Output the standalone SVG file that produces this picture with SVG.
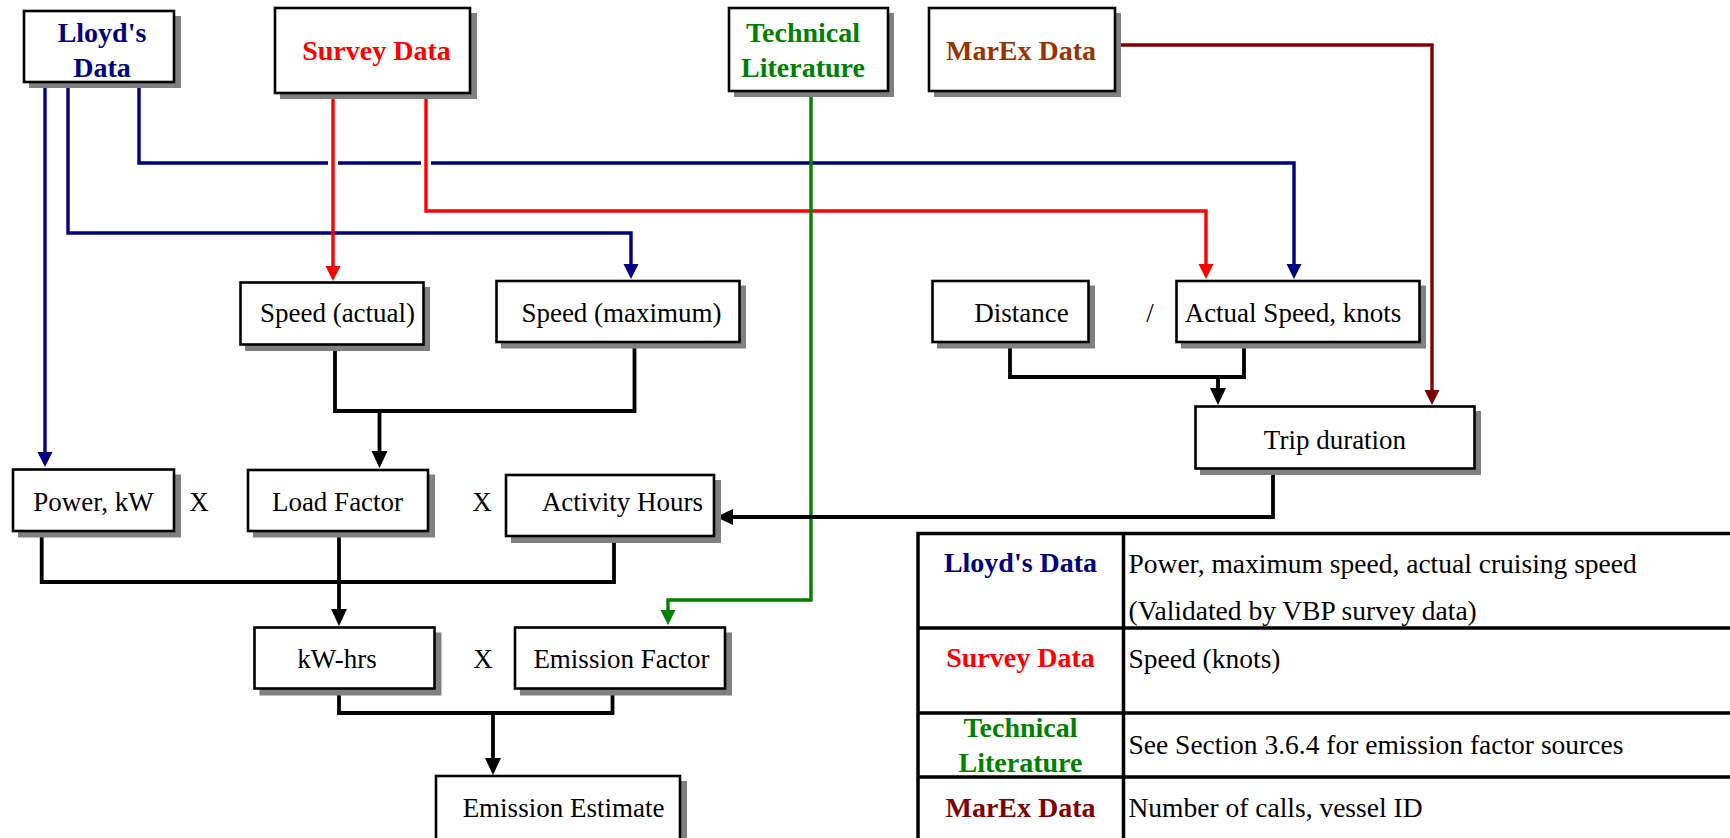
<svg xmlns="http://www.w3.org/2000/svg" width="1730" height="838" viewBox="0 0 1730 838">
  <style>
    text { font-family: "Liberation Serif", "Times New Roman", serif; font-size: 27px; fill: #000; text-anchor: middle; }
    .src { font-weight: bold; font-size: 28px; }
    .lt { text-anchor: start; font-size: 27.5px; }
    .box { fill: #fff; stroke: #000; stroke-width: 2.6; }
    .shadow { fill: #808080; }
    .ln { fill: none; stroke-width: 3.4; stroke-linejoin: miter; }
    .blk { fill: none; stroke: #000; stroke-width: 3.8; }
    .navy { stroke: #000080; }
    .red { stroke: #ff0000; }
    .green { stroke: #008000; }
    .maroon { stroke: #800000; }
    .gap { stroke: #fff; stroke-width: 10; }
    .grid { stroke: #000; stroke-width: 3.5; }
  </style>
  <defs>
    <marker id="ah-navy" markerUnits="userSpaceOnUse" markerWidth="16" markerHeight="16" refX="11" refY="7.5" orient="auto">
      <path d="M0,0 L15,7.5 L0,15 z" fill="#000080"/>
    </marker>
    <marker id="ah-red" markerUnits="userSpaceOnUse" markerWidth="16" markerHeight="16" refX="11" refY="7.5" orient="auto">
      <path d="M0,0 L15,7.5 L0,15 z" fill="#ff0000"/>
    </marker>
    <marker id="ah-green" markerUnits="userSpaceOnUse" markerWidth="16" markerHeight="16" refX="11" refY="7.5" orient="auto">
      <path d="M0,0 L15,7.5 L0,15 z" fill="#008000"/>
    </marker>
    <marker id="ah-maroon" markerUnits="userSpaceOnUse" markerWidth="16" markerHeight="16" refX="11" refY="7.5" orient="auto">
      <path d="M0,0 L15,7.5 L0,15 z" fill="#800000"/>
    </marker>
    <marker id="ah-black" markerUnits="userSpaceOnUse" markerWidth="18" markerHeight="18" refX="13" refY="8" orient="auto">
      <path d="M0,0 L17,8 L0,16 z" fill="#000"/>
    </marker>
  </defs>

  <rect width="1730" height="838" fill="#fff"/>

  <!-- connectors -->
  <g id="connectors">
    <!-- Lloyd's data feeds -->
    <path class="ln navy" d="M45,83 V463" marker-end="url(#ah-navy)"/>
    <path class="ln navy" d="M68,83 V233 H631 V275" marker-end="url(#ah-navy)"/>
    <path class="ln navy" d="M139,83 V163 H1294 V275" marker-end="url(#ah-navy)"/>
    <!-- breaks in the long blue run where the red lines pass -->
    <path class="gap" d="M333,159 V167 M426,159 V167"/>
    <!-- survey data feeds -->
    <path class="ln red" d="M333,94 V277" marker-end="url(#ah-red)"/>
    <path class="ln red" d="M426,94 V211 H1206 V275" marker-end="url(#ah-red)"/>
    <!-- technical literature feed -->
    <path class="ln green" d="M811,92 V600 H668 V621" marker-end="url(#ah-green)"/>
    <!-- MarEx feed -->
    <path class="ln maroon" d="M1115,45 H1432 V401" marker-end="url(#ah-maroon)"/>

    <!-- speeds to load factor -->
    <path class="blk" d="M335,345 V411 H634.5 V343"/>
    <path class="blk" d="M379.5,411 V464" marker-end="url(#ah-black)"/>
    <!-- distance / speed to trip duration -->
    <path class="blk" d="M1010,343 V377 H1244 V343"/>
    <path class="blk" d="M1218,377 V401" marker-end="url(#ah-black)"/>
    <!-- trip duration to activity hours -->
    <path class="blk" d="M1273,469 V517 H720" marker-end="url(#ah-black)"/>
    <!-- power x load x hours to kW-hrs -->
    <path class="blk" d="M41.7,532 V582 H614 V537"/>
    <path class="blk" d="M339,532 V622" marker-end="url(#ah-black)"/>
    <!-- kW-hrs x emission factor to estimate -->
    <path class="blk" d="M339,689 V713 H612.5 V689"/>
    <path class="blk" d="M493,713 V771" marker-end="url(#ah-black)"/>
  </g>

  <!-- data sources -->
  <g id="lloyds-data">
    <rect class="shadow" x="29" y="16" width="152" height="72"/>
    <rect class="box" x="24" y="11" width="150" height="71"/>
    <text class="src" x="102" y="42" style="fill:#000080">Lloyd's</text>
    <text class="src" x="102" y="77" style="fill:#000080">Data</text>
  </g>
  <g id="survey-data">
    <rect class="shadow" x="280" y="13" width="197" height="86"/>
    <rect class="box" x="275" y="8" width="195" height="85"/>
    <text class="src" x="376.5" y="59.5" style="fill:#ff0000">Survey Data</text>
  </g>
  <g id="technical-literature">
    <rect class="shadow" x="734" y="13" width="160" height="84"/>
    <rect class="box" x="729" y="8" width="159" height="83"/>
    <text class="src" x="803" y="42" style="fill:#008000">Technical</text>
    <text class="src" x="803" y="77" style="fill:#008000">Literature</text>
  </g>
  <g id="marex-data">
    <rect class="shadow" x="934" y="13" width="187" height="84"/>
    <rect class="box" x="929" y="8" width="186" height="83"/>
    <text class="src" x="1021" y="59.5" style="fill:#993300">MarEx Data</text>
  </g>

  <!-- intermediate quantities -->
  <g id="speed-actual">
    <rect class="shadow" x="245" y="287" width="185" height="64"/>
    <rect class="box" x="240.5" y="282.5" width="183" height="62"/>
    <text x="337.5" y="322">Speed (actual)</text>
  </g>
  <g id="speed-maximum">
    <rect class="shadow" x="501" y="285.5" width="245" height="63"/>
    <rect class="box" x="496.5" y="281" width="243" height="61"/>
    <text x="621.5" y="322">Speed (maximum)</text>
  </g>
  <g id="distance">
    <rect class="shadow" x="937" y="285.5" width="158" height="63"/>
    <rect class="box" x="932.5" y="281" width="156" height="61"/>
    <text x="1021.5" y="322">Distance</text>
  </g>
  <text id="divide-sign" x="1150" y="322">/</text>
  <g id="actual-speed">
    <rect class="shadow" x="1181" y="285.5" width="245" height="63"/>
    <rect class="box" x="1176.5" y="281" width="243" height="61"/>
    <text x="1293" y="322">Actual Speed, knots</text>
  </g>
  <g id="trip-duration">
    <rect class="shadow" x="1200" y="411" width="281" height="64"/>
    <rect class="box" x="1195.5" y="406.5" width="279" height="62"/>
    <text x="1335" y="448.5">Trip duration</text>
  </g>
  <g id="power">
    <rect class="shadow" x="18" y="474.5" width="163" height="63"/>
    <rect class="box" x="13" y="469.5" width="161" height="61.5"/>
    <text x="93.5" y="510.5">Power, kW</text>
  </g>
  <text id="times-1" x="199" y="510.5">X</text>
  <g id="load-factor">
    <rect class="shadow" x="253" y="474.5" width="182" height="63"/>
    <rect class="box" x="248" y="470" width="180" height="61"/>
    <text x="337.5" y="510.5">Load Factor</text>
  </g>
  <text id="times-2" x="482" y="510.5">X</text>
  <g id="activity-hours">
    <rect class="shadow" x="511" y="480" width="210" height="63"/>
    <rect class="box" x="506" y="475" width="208" height="61"/>
    <text x="622.5" y="511">Activity Hours</text>
  </g>
  <g id="kw-hrs">
    <rect class="shadow" x="259.5" y="632.5" width="182" height="63"/>
    <rect class="box" x="254.5" y="627.5" width="180" height="61"/>
    <text x="337" y="667.5">kW-hrs</text>
  </g>
  <text id="times-3" x="483" y="667.5">X</text>
  <g id="emission-factor">
    <rect class="shadow" x="520" y="632.5" width="212" height="63"/>
    <rect class="box" x="515" y="627.5" width="210" height="61"/>
    <text x="621.5" y="667.5">Emission Factor</text>
  </g>
  <g id="emission-estimate">
    <rect class="shadow" x="441" y="781" width="246" height="80"/>
    <rect class="box" x="436" y="776" width="244" height="80"/>
    <text x="563.5" y="817">Emission Estimate</text>
  </g>

  <!-- legend table -->
  <g id="legend">
    <rect x="918" y="534" width="830" height="320" fill="#fff"/>
    <path class="grid" d="M918,533.5 H1730 M918,628 H1730 M918,713 H1730 M918,777 H1730 M918,531.8 V850 M1123.5,531.8 V850"/>
    <text class="src" x="1020.5" y="572" style="fill:#000080">Lloyd's Data</text>
    <text class="lt" x="1128.5" y="572.5">Power, maximum speed, actual cruising speed</text>
    <text class="lt" x="1128.5" y="620">(Validated by VBP survey data)</text>
    <text class="src" x="1020.5" y="667" style="fill:#ff0000">Survey Data</text>
    <text class="lt" x="1128.5" y="668">Speed (knots)</text>
    <text class="src" x="1020.5" y="737" style="fill:#008000">Technical</text>
    <text class="src" x="1020.5" y="772" style="fill:#008000">Literature</text>
    <text class="lt" x="1128.5" y="753.5">See Section 3.6.4 for emission factor sources</text>
    <text class="src" x="1020.5" y="817" style="fill:#800000">MarEx Data</text>
    <text class="lt" x="1128.5" y="817">Number of calls, vessel ID</text>
  </g>
</svg>
